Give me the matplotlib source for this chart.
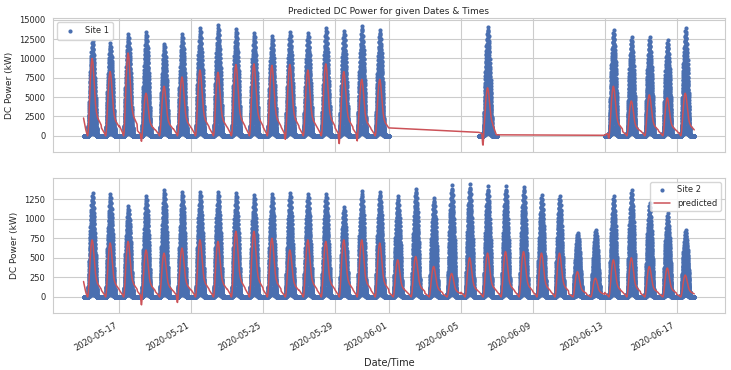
import numpy as np
import pandas as pd
import matplotlib
matplotlib.use("Agg")
import matplotlib.pyplot as plt
import matplotlib.dates as mdates
import seaborn as sns

sns.set_style("whitegrid")
plt.rcParams["font.family"] = ["DejaVu Sans"]

# days with data (site 1 has gaps, site 2 is complete)
site1_days = (list(pd.date_range("2020-05-15", "2020-05-31", freq="D"))
              + [pd.Timestamp("2020-06-06")]
              + list(pd.date_range("2020-06-13", "2020-06-17", freq="D")))
site2_days = list(pd.date_range("2020-05-15", "2020-06-17", freq="D"))

# daily max DC power (kW)
site1_peak = [12300, 12000, 13200, 13400, 11900, 13200, 13900, 14300, 13800, 13300,
              12900, 13400, 13300, 13900, 13600, 14200, 13700, 14100, 13700, 12800,
              12700, 12400, 13900]
site1_pred_peak = [10000, 8300, 10700, 5500, 6400, 7600, 8500, 8200, 9200, 9300,
                   9100, 9200, 8500, 9300, 8300, 7300, 7300, 6200, 6400, 4500,
                   5300, 4900, 5500]
site1_pred_dip = [0, 0, 0, -700, 0, 0, 0, 0, 0, 0, 0, -450, 0, 0, -1000, -650, 0,
                  -1200, -300, 0, 0, 0, 0]
site1_pred_start = [1100, 0, 0, 0, 0, 0, 0, 0, 0, 0, 0, 0, 0, 0, 0, 0, 0,
                    -300, -700, 0, 0, 0, 0]
site1_pred_end = [0, 0, 0, 0, 0, 0, 0, 0, 0, 0, 0, 0, 0, 0, 0, 0, 0,
                  -740, 0, 0, 0, 0, 0]

site2_peak = [1330, 1315, 1160, 1290, 1370, 1340, 1340, 1340, 1330, 1300,
              1320, 1330, 1320, 1320, 1150, 1350, 1340, 1290, 1385, 1270,
              1425, 1440, 1415, 1415, 1405, 1300, 1290, 820, 855, 1290,
              1370, 1200, 1070, 855]
site2_pred_peak = [730, 690, 710, 600, 560, 625, 730, 710, 840, 840,
                   750, 600, 730, 710, 730, 730, 690, 475, 517, 390,
                   300, 500, 560, 580, 580, 560, 560, 325, 240, 475,
                   500, 390, 370, 280]
site2_pred_dip = [0, 0, 0, -100, 0, -70, 0, 0, 0, 0, 0, 0, 0, 0, 0, 0, 0,
                  0, 0, 0, 0, 0, 0, 0, 0, 0, 0, 0, 0, 0, 0, 0, 0, 0]
site2_pred_start = [110, 0, 0, 0, 0, 0, 0, 0, 0, 0, 0, 0, 0, 0, 0, 0, 0,
                    0, 0, 0, 0, 0, 0, 0, 0, 0, 0, 0, 0, 0, 0, 0, 0, 0]
site2_pred_end = [0, 0, 0, 0, 0, 0, 0, 0, 0, 0, 0, 0, 0, 0, 0, 0, 0,
                  0, 0, 0, 0, 0, 0, 0, 0, 0, 0, 0, 0, 0, 0, 0, 0, 0]

# half-hourly daily profiles (00:00 ... 23:30)
sun_shape = ([0] * 12
             + [0.03, 0.10, 0.22, 0.35, 0.47, 0.58, 0.67, 0.75, 0.82, 0.88,
                0.93, 0.97, 1.0, 0.96, 0.91, 0.85, 0.78, 0.70, 0.61, 0.51,
                0.40, 0.28, 0.17, 0.08, 0.02]
             + [0] * 11)
pred_shape = ([0.12, 0.11, 0.10, 0.09, 0.08, 0.07, 0.06, 0.05, 0.04, 0.03, 0.01, 0.0]
              + [0.03, 0.10, 0.20, 0.32, 0.45, 0.58, 0.70, 0.80, 0.88, 0.94, 0.98, 1.0, 0.98]
              + [0.94, 0.88, 0.80, 0.71, 0.62, 0.54, 0.47, 0.41, 0.36, 0.32, 0.29, 0.27,
                 0.25, 0.23, 0.22, 0.21, 0.20, 0.19, 0.18, 0.17, 0.16, 0.15, 0.14])
dip_shape = [0] * 9 + [0.6, 1.0, 1.0, 0.6] + [0] * 35
start_shape = [1.0, 0.85, 0.70, 0.55, 0.40, 0.28, 0.17, 0.08, 0.02] + [0] * 39
end_shape = [0] * 37 + [0.1, 0.2, 0.3, 0.4, 0.5, 0.6, 0.7, 0.8, 0.9, 1.0, 1.0]
# spread of the individual inverters relative to the best one
inverter_frac = [1.0, 0.95, 0.90, 0.84, 0.77, 0.70, 0.62, 0.54, 0.46, 0.38,
                 0.30, 0.22, 0.15, 0.08, 0.03]


def build(days, peak, pred_peak, dip, start, end):
    t, y, tp, yp = [], [], [], []
    for d, p, pp, dp, s, e in zip(days, peak, pred_peak, dip, start, end):
        times = pd.date_range(d, periods=48, freq="30min")
        for i, tm in enumerate(times):
            for f in inverter_frac:
                t.append(tm)
                y.append(p * sun_shape[i] * f)
            tp.append(tm)
            yp.append(pp * pred_shape[i] + dp * dip_shape[i]
                      + s * start_shape[i] + e * end_shape[i])
    return t, y, tp, yp


blue = "#4a6fb0"
red = "#cc5258"

fig = plt.figure(figsize=(7.31, 3.70), dpi=100)
ax1 = fig.add_axes([0.0725, 0.589, 0.919, 0.362])
ax2 = fig.add_axes([0.0725, 0.154, 0.919, 0.365], sharex=ax1)

t1, y1, tp1, yp1 = build(site1_days, site1_peak, site1_pred_peak, site1_pred_dip,
                         site1_pred_start, site1_pred_end)
ax1.plot(t1, y1, "o", color=blue, markersize=3.0, markeredgewidth=0, label="Site 1")
ax1.legend(loc="upper left", fontsize=6, frameon=True, borderpad=0.5)
ax1.plot(tp1, yp1, color=red, linewidth=1.1, label="predicted")
ax1.set_ylim(-2100, 15200)
ax1.set_yticks(range(0, 15001, 2500))
ax1.set_ylabel("DC Power (kW)", fontsize=6.5)
ax1.set_title("Predicted DC Power for given Dates & Times", fontsize=6.5, pad=3)

t2, y2, tp2, yp2 = build(site2_days, site2_peak, site2_pred_peak, site2_pred_dip,
                         site2_pred_start, site2_pred_end)
ax2.plot(t2, y2, "o", color=blue, markersize=3.0, markeredgewidth=0, label="Site 2")
ax2.plot(tp2, yp2, color=red, linewidth=1.1, label="predicted")
ax2.legend(loc="upper right", fontsize=6, frameon=True)
ax2.set_ylim(-205, 1520)
ax2.set_yticks(range(0, 1251, 250))
ax2.set_ylabel("DC Power (kW)", fontsize=6.5)
ax2.set_xlabel("Date/Time", fontsize=7)

ax2.xaxis.set_major_locator(mdates.DayLocator(bymonthday=[1, 5, 9, 13, 17, 21, 25, 29]))
ax2.xaxis.set_major_formatter(mdates.DateFormatter("%Y-%m-%d"))
for ax in (ax1, ax2):
    ax.tick_params(labelsize=6, pad=2)
plt.setp(ax1.get_xticklabels(), visible=False)
plt.setp(ax2.get_xticklabels(), rotation=30, ha="right")

fig.savefig("out.png", dpi=100)
